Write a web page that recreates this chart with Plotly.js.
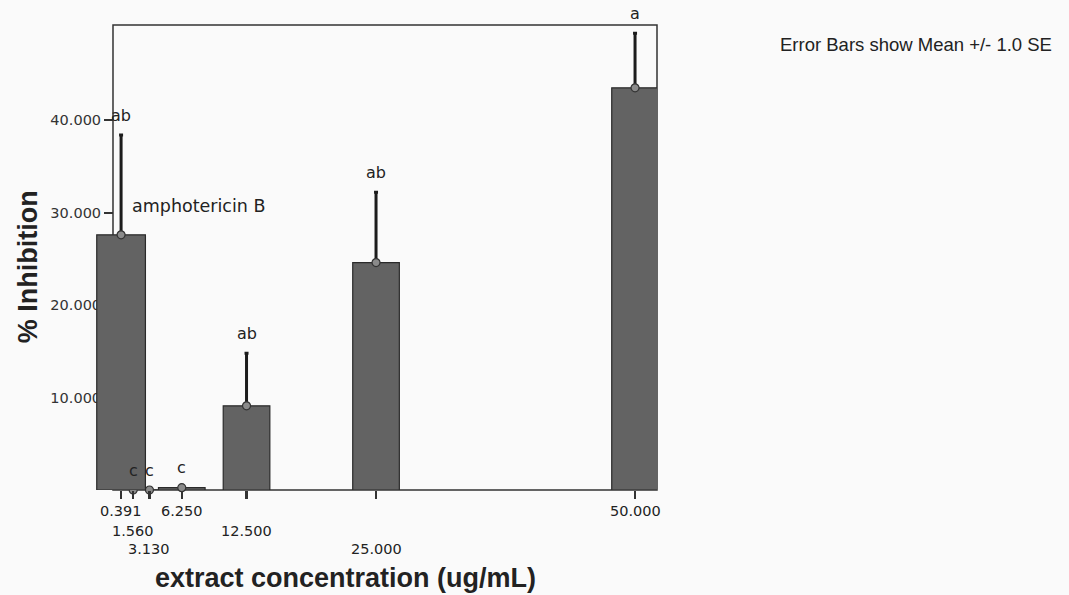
<!DOCTYPE html>
<html><head><meta charset="utf-8">
<script src="https://cdn.plot.ly/plotly-3.0.1.min.js"></script>
<style>html,body{margin:0;padding:0;background:#fafafa}</style>
</head><body><div id="chart" style="width:1069px;height:595px"></div>
<script>
const concentrations = [0.391, 1.56, 3.13, 6.25, 12.5, 25, 50];
const meanInhibition = [27.6, 0, 0, 0.25, 9.1, 24.6, 43.5];
const seInhibition = [10.8, 0, 0, 0, 5.7, 7.6, 5.9];
const groupLetters = ['ab', 'c', 'c', 'c', 'ab', 'ab', 'a'];
const tickLabels = ['0.391', '1.560', '3.130', '6.250', '12.500', '25.000', '50.000'];
const yTickValues = [10, 20, 30, 40];
const yTickLabels = ['10.000', '20.000', '30.000', '40.000'];
const controlName = 'amphotericin B';
const noteText = 'Error Bars show Mean +/- 1.0 SE';
const xTitle = 'extract concentration (ug/mL)';
const yTitle = '% Inhibition';

const barColor = '#636363', barLine = '#2a2a2a', errColor = '#1c1c1c';
const xRange = [-2.03, 52.12], yRange = [0, 50.3];
const rowShift = [-21, -41, -59];
const tickRow = [0, 1, 2, 0, 1, 2, 0];
const txtFont = 'DejaVu Sans, Verdana, sans-serif';
const boldFont = {family: 'Liberation Sans, Arial, sans-serif', size: 27, weight: 'bold', color: '#222'};

function errObj(arr) {
  return {type: 'data', symmetric: false, array: arr, arrayminus: arr.map(() => 0),
          color: errColor, thickness: 3, width: 2};
}

const rest = {x: concentrations.slice(1), y: meanInhibition.slice(1), se: seInhibition.slice(1)};
const ctrl = {x: concentrations.slice(0, 1), y: meanInhibition.slice(0, 1), se: seInhibition.slice(0, 1)};

const traces = [
  {type: 'bar', x: rest.x, y: rest.y, width: 4.5, xaxis: 'x', yaxis: 'y',
   marker: {color: barColor, line: {color: barLine, width: 1.2}}, error_y: errObj(rest.se),
   showlegend: false},
  {type: 'scatter', mode: 'markers', x: rest.x, y: rest.y, xaxis: 'x', yaxis: 'y', cliponaxis: false,
   marker: {size: 8, color: '#8a8a8a', line: {color: '#333', width: 1.2}}, showlegend: false},
  {type: 'bar', x: ctrl.x, y: ctrl.y, width: 4.7, xaxis: 'x2', yaxis: 'y2', name: controlName,
   marker: {color: barColor, line: {color: barLine, width: 1.2}}, error_y: errObj(ctrl.se),
   showlegend: false},
  {type: 'scatter', mode: 'markers', x: ctrl.x, y: ctrl.y, xaxis: 'x2', yaxis: 'y2', cliponaxis: false,
   marker: {size: 8, color: '#8a8a8a', line: {color: '#333', width: 1.2}}, showlegend: false}
];

const annotations = [];
concentrations.forEach((c, i) => {
  annotations.push({x: c, y: meanInhibition[i] + seInhibition[i], xref: 'x', yref: 'y',
    text: groupLetters[i], showarrow: false, yanchor: 'middle', yshift: 20,
    font: {family: txtFont, size: 16, color: '#222'}});
  annotations.push({x: c, y: 0, xref: 'x', yref: 'paper', text: tickLabels[i], showarrow: false,
    yanchor: 'middle', yshift: rowShift[tickRow[i]], font: {family: txtFont, size: 14.5, color: '#222'}});
});
annotations.push({x: 1.25, y: 30.7, xref: 'x', yref: 'y', xanchor: 'left', yanchor: 'middle',
  text: controlName, showarrow: false, font: {family: txtFont, size: 17.5, color: '#222'}});
annotations.push({x: 1.2157, y: 0.959, xref: 'paper', yref: 'paper', xanchor: 'left', yanchor: 'middle',
  text: noteText, showarrow: false, font: {family: 'Liberation Sans, Arial, sans-serif', size: 18.5, color: '#222'}});
annotations.push({x: 0.444, y: 0, xref: 'paper', yref: 'paper', xanchor: 'center', yanchor: 'middle',
  yshift: -88, text: xTitle, showarrow: false, font: boldFont});
annotations.push({x: 0, y: 0.479, xref: 'paper', yref: 'paper', xanchor: 'center', yanchor: 'middle',
  xshift: -68, textangle: -90, text: yTitle, showarrow: false, font: boldFont});

const layout = {
  width: 1069, height: 595,
  margin: {l: 96, r: 412, t: 25, b: 105, pad: 0},
  paper_bgcolor: '#fafafa', plot_bgcolor: 'rgba(0,0,0,0)',
  showlegend: false, bargap: 0,
  xaxis: {range: xRange, domain: [0, 1], tickvals: concentrations, showticklabels: false,
    ticks: 'outside', ticklen: 8, tickwidth: 2.5, tickcolor: '#333',
    showline: false, zeroline: false, showgrid: false, automargin: false},
  yaxis: {range: yRange, anchor: 'free', position: 0.0303, tickvals: yTickValues, ticktext: yTickLabels,
    ticks: 'outside', ticklen: 9, tickwidth: 2, tickcolor: '#333', layer: 'below traces',
    tickfont: {family: txtFont, size: 14.5, color: '#333'},
    showline: false, zeroline: false, showgrid: false, automargin: false},
  xaxis2: {range: xRange, overlaying: 'x', anchor: 'y2', visible: false},
  yaxis2: {range: yRange, overlaying: 'y', anchor: 'x2', visible: false},
  shapes: [{type: 'rect', xref: 'paper', yref: 'paper', x0: 0.0303, x1: 1, y0: 0, y1: 1,
    layer: 'below', line: {color: '#333', width: 1.5}}],
  annotations: annotations
};

Plotly.newPlot('chart', traces, layout, {displayModeBar: false, staticPlot: true});
</script></body></html>
